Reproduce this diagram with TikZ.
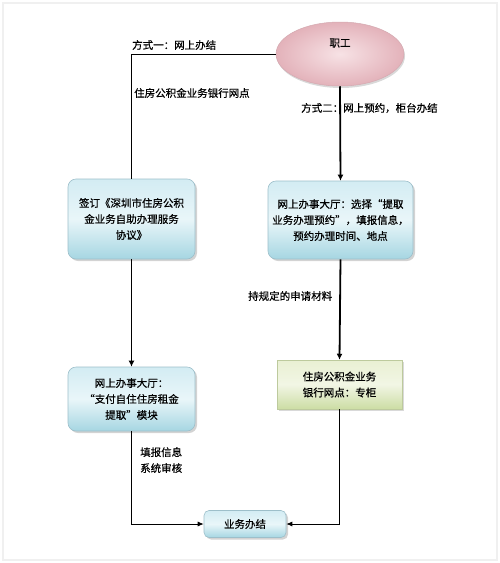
\documentclass[tikz,border=0pt]{standalone}
\usepackage{fontspec}
\usepackage{xcolor}
\usepackage{tikz}
\usetikzlibrary{arrows.meta,positioning,calc,shapes.geometric,shadows}
\newfontfamily\cjk[FakeBold=0.6]{Noto Sans CJK SC}
\definecolor{boxtop}{HTML}{D3ECF3}
\definecolor{boxmid}{HTML}{E9F6F9}
\definecolor{boxbot}{HTML}{A6D6E2}
\definecolor{boxline}{HTML}{9DBFCA}
\definecolor{pinkin}{HTML}{F7E2E5}
\definecolor{pinkout}{HTML}{E3B2BA}
\definecolor{greentop}{HTML}{E9F0D3}
\definecolor{greenbot}{HTML}{CCDDA4}

\begin{document}
\begin{tikzpicture}[x=1pt, y=-1pt, >=Latex,
  txt/.style={font=\cjk\fontsize{10.5}{16}\selectfont, inner sep=0pt},
  bluebox/.style={txt, rectangle, rounded corners=8pt, draw=boxline, line width=0.6pt,
    top color=boxtop, bottom color=boxbot, middle color=boxmid, align=center,
    drop shadow={shadow xshift=2pt, shadow yshift=-2pt, opacity=0.35}},
  greenbox/.style={txt, rectangle, draw=greenbot!80!gray, line width=0.5pt,
    top color=greentop, bottom color=greenbot, middle color=greentop!60!white, align=center,
    drop shadow={shadow xshift=2pt, shadow yshift=-2pt, opacity=0.3}},
  thickarrow/.style={->, line width=1.8pt, >={Latex[length=6pt,width=6pt]}},
  thinline/.style={line width=0.8pt},
  thinarrow/.style={->, line width=0.8pt, >={Latex[length=6pt,width=5pt]}}]
  % frame
  \useasboundingbox (0,0) rectangle (500,563);
  \draw[gray!12, line width=1.5pt] (3,3) rectangle (497,560);
  % nodes
  \node[txt, ellipse, minimum width=128pt, minimum height=64pt, draw=pinkout!85!gray,
    line width=0.5pt, inner color=pinkin, outer color=pinkout,
    drop shadow={shadow xshift=1pt, shadow yshift=-2pt, opacity=0.3}] (staff) at (340,54) {};
  \node[txt] at (340,43) {职工};
  \node[bluebox, minimum width=127pt, minimum height=80pt] (sign) at (131.5,219)
    {签订《深圳市住房公积\\金业务自助办理服务\\协议》};
  \node[bluebox, minimum width=145pt, minimum height=78pt] (reserve) at (340.5,220)
    {网上办事大厅：选择“提取\\业务办理预约”，填报信息，\\预约办理时间、地点};
  \node[bluebox, minimum width=127pt, minimum height=64pt] (hall) at (131.5,399)
    {网上办事大厅：\\“支付自住住房租金\\提取”模块};
  \node[greenbox, minimum width=125pt, minimum height=49pt] (bank) at (339.5,384.5)
    {住房公积金业务\\银行网点：专柜};
  \node[bluebox, rounded corners=5pt, minimum width=82pt, minimum height=27pt] (done) at (245,524)
    {业务办结};
  % connectors
  \draw[thinline] (staff.west) -| (sign.north);
  \draw[thickarrow] (staff.south) -- (reserve.north);
  \draw[thickarrow] (sign.south) -- (hall.north);
  \draw[thickarrow] (reserve.south) -- (bank.north);
  \draw[thinarrow] (hall.south) |- (done.west);
  \draw[thinarrow] (bank.south) |- (done.east);
  % labels
  \node[txt, anchor=west] (way1) at (132,45) {方式一：网上办结};
  \node[txt, anchor=west] (netpoint) at (134,93) {住房公积金业务银行网点};
  \node[txt, anchor=west] (way2) at (301,108) {方式二：网上预约，柜台办结};
  \node[txt, anchor=west] (material) at (248,296) {持规定的申请材料};
  \node[txt, anchor=north west, align=left] (check) at (140,447) {填报信息\\系统审核};
\end{tikzpicture}
\end{document}
